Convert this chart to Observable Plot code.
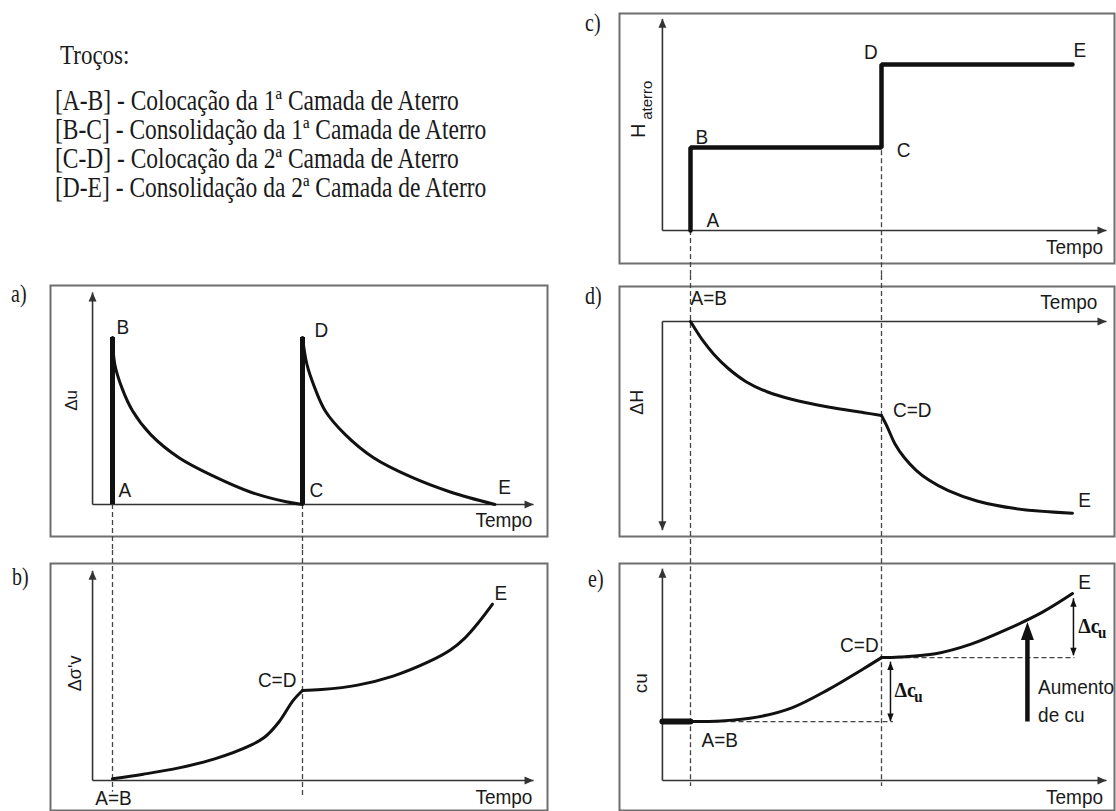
<!DOCTYPE html>
<html><head><meta charset="utf-8">
<script src="https://cdn.jsdelivr.net/npm/d3@7"></script>
<script src="https://cdn.jsdelivr.net/npm/@observablehq/plot@0.6"></script>
<style>
body{margin:0;background:#fff;}
#root{position:relative;width:1116px;height:811px;overflow:hidden;background:#fff;}
.lab{position:absolute;font-family:"Liberation Serif","Times New Roman",serif;color:#1a1a1a;white-space:nowrap;line-height:22px;height:22px;}
</style></head>
<body><div id="root"></div>
<script>
// ---------- text data ----------
const legendTitle = "Troços:";
const legendItems = [
  "[A-B] - Colocação da 1ª Camada de Aterro",
  "[B-C] - Consolidação da 1ª Camada de Aterro",
  "[C-D] - Colocação da 2ª Camada de Aterro",
  "[D-E] - Consolidação da 2ª Camada de Aterro"
];
const panelLetters = ["a)", "b)", "c)", "d)", "e)"];

// ---------- time axis (A/B = 0, C/D = 1, E = 2) ----------
const eventTimes = [0, 1];

// a) excess pore pressure Δu
const duCurve1 = [[0,1],[0.012,0.84],[0.049,0.70],[0.106,0.56],[0.2,0.42],[0.35,0.28],[0.54,0.165],[0.725,0.075],[0.914,0.016],[1,0]];
const duCurve2 = [[1,1],[1.023,0.84],[1.064,0.70],[1.12,0.56],[1.224,0.42],[1.374,0.28],[1.571,0.165],[1.778,0.075],[2.013,0]];
const duJumps = [[0,0,1],[1,0,1]];
const duLabels = [["B",0.021,1.06,"start"],["D",1.063,1.04,"start"],["A",0.032,0.084,"start"],["C",1.037,0.084,"start"],["E",2.03,0.10,"start"],["Tempo",2.21,-0.096,"end"]];

// b) effective stress Δσ'v
const dsCurve1 = [[0,0.02],[0.162,0.07],[0.35,0.14],[0.538,0.24],[0.726,0.39],[0.80,0.48],[0.876,0.65],[0.951,0.89],[1.0,1.0]];
const dsCurve2 = [[1.0,1.0],[1.10,1.01],[1.29,1.06],[1.477,1.16],[1.665,1.32],[1.778,1.45],[1.853,1.58],[1.928,1.76],[2.0,1.96]];
const dsLabels = [["E",2.01,2.08,"start"],["C=D",0.968,1.11,"end"],["A=B",0.005,-0.2,"middle"],["Tempo",2.21,-0.19,"end"]];

// c) fill height H_aterro
const hSteps = [[0,0],[0,1],[1,1],[1,2],[2,2]];
const hLabels = [["B",0.026,1.12,"start"],["A",0.084,0.12,"start"],["C",1.08,0.96,"start"],["D",0.98,2.14,"end"],["E",2.005,2.17,"start"],["Tempo",2.16,-0.2,"end"]];

// d) settlement ΔH
const dhCurve1 = [[0,0],[0.067,0.21],[0.123,0.35],[0.198,0.50],[0.291,0.64],[0.404,0.75],[0.534,0.83],[0.721,0.91],[0.908,0.97],[1,1]];
const dhCurve2 = [[1,1],[1.03,1.12],[1.07,1.30],[1.12,1.45],[1.18,1.58],[1.25,1.69],[1.35,1.80],[1.5,1.91],[1.7,1.99],[2.0,2.04]];
const dhLabels = [["A=B",0,-0.245,"start"],["C=D",1.06,0.95,"start"],["E",2.03,1.90,"start"],["Tempo",2.13,-0.2,"end"]];

// e) undrained strength cu
const cuInitial = [[-0.147,0.92],[0,0.92]];
const cuCurve1 = [[0,0.92],[0.161,0.93],[0.348,0.99],[0.534,1.14],[0.721,1.42],[0.908,1.75],[1.0,1.92]];
const cuCurve2 = [[1.0,1.92],[1.095,1.93],[1.282,1.98],[1.469,2.13],[1.656,2.36],[1.843,2.63],[2.0,2.92]];
const cuLevels = [[0,1.06,0.92],[1,2.01,1.92]];
const cuDeltaArrows = [[1.047,0.92,1.85],[2.005,1.95,2.84]];
const cuGain = [1.764, 0.914, 2.475];
const cuLabels = [["E",2.03,3.09,"start"],["C=D",0.985,2.11,"end"],["A=B",0.058,0.625,"start"],["Tempo",2.16,-0.27,"end"],["Aumento",1.82,1.46,"start"],["de cu",1.82,1.02,"start"]];
const cuDeltaLabels = [[1.068,1.41,1.172,1.30],[2.03,2.42,2.134,2.31]];

// axis label texts
const axisTitles = {a:"Δu", b:"Δσ'v", c:["H","aterro"], d:"ΔH", e:"cu"};

// ---------- helpers ----------
const root = document.getElementById("root");
const STRETCH_SVG = 1.08;   // chart lettering is slightly taller than wide
const STRETCH_HTML = 1.22;  // legend lettering is clearly taller than wide
const pts = a => a.map(([t, v]) => ({t, v}));
const labs = a => a.map(([text, t, v, anchor]) => ({text, t, v, anchor}));
const INK = "#111", AX = "#333", DASH = "#444", TXT = "#1a1a1a";
const head = (len, half, dir) => ({draw(c) {
  const p = dir === "up" ? [[-half,len],[half,len]] : dir === "down" ? [[-half,-len],[half,-len]] : [[-len,-half],[-len,half]];
  c.moveTo(0,0); c.lineTo(p[0][0],p[0][1]); c.lineTo(p[1][0],p[1][1]); c.closePath();
}});
const headUp = head(9,4,"up"), headDown = head(9,4,"down"), headRight = head(9,4,"right");
const smallUp = head(8,3.2,"up"), smallDown = head(8,3.2,"down");
const bigUp = head(18,6.5,"up");

function curve(data, sw = 3) {
  return Plot.line(pts(data), {x:"t", y:"v", stroke:INK, strokeWidth:sw, curve:"catmull-rom"});
}
function texts(data) {
  const all = labs(data);
  return ["start","middle","end"].map(a => Plot.text(all.filter(d => d.anchor === a), {x:"t", y:"v", text:"text", textAnchor:a, fill:TXT, fontSize:19}));
}
function vlabel(text, t, v, size = 18) {
  return Plot.text([text], {x:t, y:v, text:d => d, rotate:-90, fill:TXT, fontSize:size});
}
function axes(t0, tEnd, v0, vTip, yDir = "up") {
  return [
    Plot.link([{x1:t0, y1:v0, x2:tEnd, y2:v0}], {x1:"x1", y1:"y1", x2:"x2", y2:"y2", stroke:AX, strokeWidth:1.6}),
    Plot.link([{x1:t0, y1:v0, x2:t0, y2:vTip}], {x1:"x1", y1:"y1", x2:"x2", y2:"y2", stroke:AX, strokeWidth:1.6}),
    Plot.dot([{t:tEnd, v:v0}], {x:"t", y:"v", symbol:headRight, fill:AX, stroke:"none"}),
    Plot.dot([{t:t0, v:vTip}], {x:"t", y:"v", symbol:yDir === "up" ? headUp : headDown, fill:AX, stroke:"none"})
  ];
}
function dashed(segs) {
  return Plot.ruleX(segs.map(([t, y1, y2]) => ({t, y1, y2})), {x:"t", y1:"y1", y2:"y2", stroke:DASH, strokeWidth:1.3, strokeDasharray:"5,3"});
}
// stretch horizontal lettering vertically (around each text's own anchor)
function stretchTexts(svg) {
  svg.querySelectorAll("text").forEach(el => {
    const tr = el.getAttribute("transform");
    if (!tr || /rotate\(/.test(tr)) return;
    el.setAttribute("transform", `${tr} scale(1,${STRETCH_SVG})`);
  });
}
function panel(cfg, marks) {
  const width = cfg.right - cfg.left, height = cfg.bottom - cfg.top;
  const svg = Plot.plot({
    width, height, marginTop:0, marginRight:0, marginBottom:0, marginLeft:0,
    x:{type:"linear", domain:[0,1], range:[cfg.xPx[0]-cfg.left, cfg.xPx[1]-cfg.left], axis:null},
    y:{type:"linear", domain:[0,1], range:[cfg.yPx[0]-cfg.top, cfg.yPx[1]-cfg.top], axis:null},
    style:{overflow:"visible", background:"transparent", fontFamily:'"Liberation Sans", Arial, sans-serif', fontSize:"19px", color:INK},
    marks:[Plot.frame({stroke:"#6e6e6e", strokeWidth:2}), ...marks]
  });
  stretchTexts(svg);
  svg.style.position = "absolute";
  svg.style.left = cfg.left + "px";
  svg.style.top = cfg.top + "px";
  svg.style.maxWidth = "none";
  root.appendChild(svg);
}

// ---------- layout ----------
const colL = {left:50, right:547, xPx:[112,302]};
const colR = {left:619, right:1114, xPx:[690,881]};
const LT0 = -0.105, LT1 = 2.216, RT0 = -0.147, RT1 = 2.178;

// a)
panel({...colL, top:285, bottom:536, yPx:[504,337]}, [
  dashed(eventTimes.map(t => [t, 0, -0.275])),
  ...axes(LT0, LT1, 0, 1.27),
  Plot.ruleX(duJumps.map(([t,a,b]) => ({t,a,b})), {x:"t", y1:"a", y2:"b", stroke:INK, strokeWidth:5}),
  curve(duCurve1), curve(duCurve2),
  ...texts(duLabels),
  vlabel(axisTitles.a, -0.216, 0.623, 17)
]);

// b)
panel({...colL, top:563, bottom:810, yPx:[780,690]}, [
  dashed([[0, 2.556, -0.13],[1, 2.556, -0.18]]),
  ...axes(LT0, LT1, 0, 2.33),
  curve(dsCurve1), curve(dsCurve2),
  ...texts(dsLabels),
  vlabel(axisTitles.b, -0.195, 1.19, 18)
]);

// c)
panel({...colR, top:13, bottom:263, yPx:[230,147]}, [
  dashed([[0, 0, -0.54],[1, 0.96, -0.54]]),
  ...axes(RT0, RT1, 0, 2.55),
  Plot.line(pts(hSteps), {x:"t", y:"v", stroke:INK, strokeWidth:4.5, strokeLinejoin:"miter"}),
  ...texts(hLabels),
  vlabel(axisTitles.c[0], -0.272, 1.2, 20),
  vlabel(axisTitles.c[1], -0.225, 1.57, 15)
]);

// d)
panel({...colR, top:286, bottom:536, yPx:[321,415]}, [
  dashed(eventTimes.map(t => [t, -0.49, 2.44])),
  ...axes(RT0, RT1, 0, 2.22, "down"),
  curve(dhCurve1), curve(dhCurve2),
  ...texts(dhLabels),
  vlabel(axisTitles.d, -0.277, 0.86, 18)
]);

// e)
panel({...colR, top:563, bottom:810, yPx:[780,716]}, [
  dashed(eventTimes.map(t => [t, 3.59, -0.094])),
  Plot.link(cuLevels.map(([a,b,v]) => ({a,b,v})), {x1:"a", x2:"b", y1:"v", y2:"v", stroke:DASH, strokeWidth:1.3, strokeDasharray:"5,3"}),
  ...axes(RT0, RT1, 0, 3.31),
  Plot.line(pts(cuInitial), {x:"t", y:"v", stroke:INK, strokeWidth:6}),
  curve(cuCurve1), curve(cuCurve2),
  Plot.ruleX(cuDeltaArrows.map(([t,a,b]) => ({t,a,b})), {x:"t", y1:"a", y2:"b", stroke:INK, strokeWidth:1.5}),
  Plot.dot(cuDeltaArrows.map(([t,a,b]) => ({t, v:b})), {x:"t", y:"v", symbol:smallUp, fill:INK, stroke:"none"}),
  Plot.dot(cuDeltaArrows.map(([t,a,b]) => ({t, v:a})), {x:"t", y:"v", symbol:smallDown, fill:INK, stroke:"none"}),
  Plot.ruleX([cuGain], {x:d => d[0], y1:d => d[1], y2:d => d[2] - 0.2, stroke:INK, strokeWidth:4.5}),
  Plot.dot([cuGain], {x:d => d[0], y:d => d[2], symbol:bigUp, fill:INK, stroke:"none"}),
  ...texts(cuLabels),
  Plot.text(cuDeltaLabels, {x:d => d[0], y:d => d[1], text:() => "Δc", textAnchor:"start", fontFamily:'"Liberation Serif", serif', fontWeight:"bold", fontSize:20, fill:INK}),
  Plot.text(cuDeltaLabels, {x:d => d[2], y:d => d[3], text:() => "u", textAnchor:"start", fontFamily:'"Liberation Serif", serif', fontWeight:"bold", fontSize:15, fill:INK}),
  vlabel(axisTitles.e, -0.26, 1.52, 19)
]);

// ---------- HTML text: legend and panel letters ----------
function addLabel(text, left, baseline, size) {
  const d = document.createElement("div");
  d.className = "lab";
  d.textContent = text;
  d.style.fontSize = size + "px";
  const asc = size * 0.891 + (22 - size * 1.107) / 2; // baseline offset inside the 22px line box
  d.style.left = left + "px";
  d.style.top = (baseline - asc) + "px";
  d.style.transformOrigin = `0 ${asc}px`;
  d.style.transform = `scaleY(${STRETCH_HTML})`;
  root.appendChild(d);
}
addLabel(legendTitle, 60, 65, 23);
legendItems.forEach((s, i) => addLabel(s, 55, 110 + i * 29, 23.5));
const letterBase = [[11,302],[12,585],[585,31],[585,304],[588,587]];
panelLetters.forEach((s, i) => addLabel(s, letterBase[i][0], letterBase[i][1], 20));
</script>
</body></html>
